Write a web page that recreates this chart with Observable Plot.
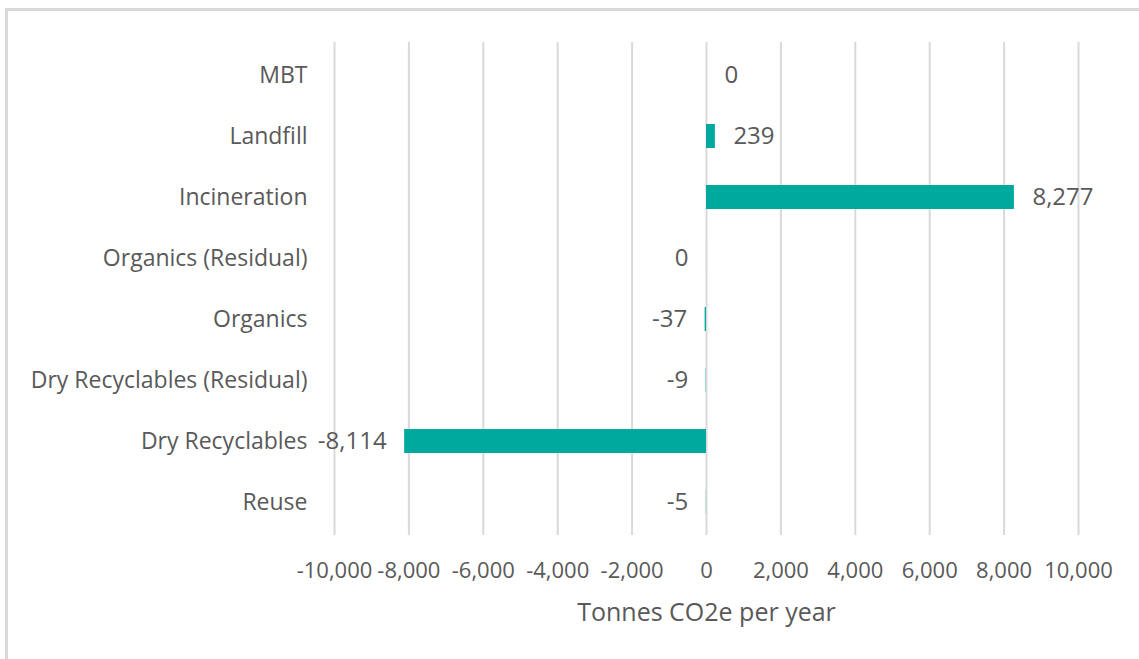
<!DOCTYPE html>
<html>
<head>
<meta charset="utf-8">
<script src="https://cdn.jsdelivr.net/npm/d3@7"></script>
<script src="https://cdn.jsdelivr.net/npm/@observablehq/plot@0.6"></script>
<style>
  html, body { margin: 0; padding: 0; background: #fff; overflow: hidden; }
  #wrap { position: relative; width: 1139px; height: 659px; overflow: hidden; }
  #frame { position: absolute; left: 5px; top: 8px; width: 1150px; height: 670px; border: 3px solid #d9d9d9; box-sizing: border-box; }
  #chart { position: absolute; left: 0; top: 0; }
</style>
</head>
<body>
<div id="wrap"><div id="frame"></div><div id="chart"></div></div>
<script>
const categories = ["MBT", "Landfill", "Incineration", "Organics (Residual)", "Organics", "Dry Recyclables (Residual)", "Dry Recyclables", "Reuse"];
const values = [0, 239, 8277, -0.3, -37, -9, -8114, -5];
const xTicks = [-10000, -8000, -6000, -4000, -2000, 0, 2000, 4000, 6000, 8000, 10000];
const xTitle = "Tonnes CO2e per year";

const data = categories.map((c, i) => ({category: c, value: values[i]}));
const fmt = v => { const r = Math.round(v); return (r === 0 ? 0 : r).toLocaleString("en-US"); };
const textColor = "#595959";

const chart = Plot.plot({
  width: 1139,
  height: 659,
  marginLeft: 334,
  marginRight: 61,
  marginTop: 42,
  marginBottom: 124,
  style: {fontFamily: "'Open Sans', sans-serif", color: textColor, background: "transparent"},
  x: {domain: [-10000, 10000]},
  y: {domain: categories, paddingInner: 0.61, paddingOuter: 0.305},
  marks: [
    Plot.gridX(xTicks, {stroke: "#d9d9d9", strokeWidth: 2, strokeOpacity: 1}),
    Plot.barX(data, {x: "value", y: "category", fill: "#00a99d"}),
    Plot.text(data.filter(d => d.value > 0 || Object.is(d.value, 0)), {x: "value", y: "category", text: d => fmt(d.value), textAnchor: "start", dx: 18, fontSize: 24, fill: textColor}),
    Plot.text(data.filter(d => d.value < 0), {x: "value", y: "category", text: d => fmt(d.value), textAnchor: "end", dx: -18, fontSize: 24, fill: textColor}),
    Plot.axisX(xTicks, {tickSize: 0, tickPadding: 27, fontSize: 22, tickFormat: d => d.toLocaleString("en-US"), label: null}),
    Plot.axisY({tickSize: 0, tickPadding: 27, fontSize: 23, label: null}),
    Plot.text([xTitle], {frameAnchor: "bottom", dy: 68, lineAnchor: "top", fontSize: 25, fill: textColor})
  ]
});
document.getElementById("chart").appendChild(chart);
</script>
</body>
</html>
